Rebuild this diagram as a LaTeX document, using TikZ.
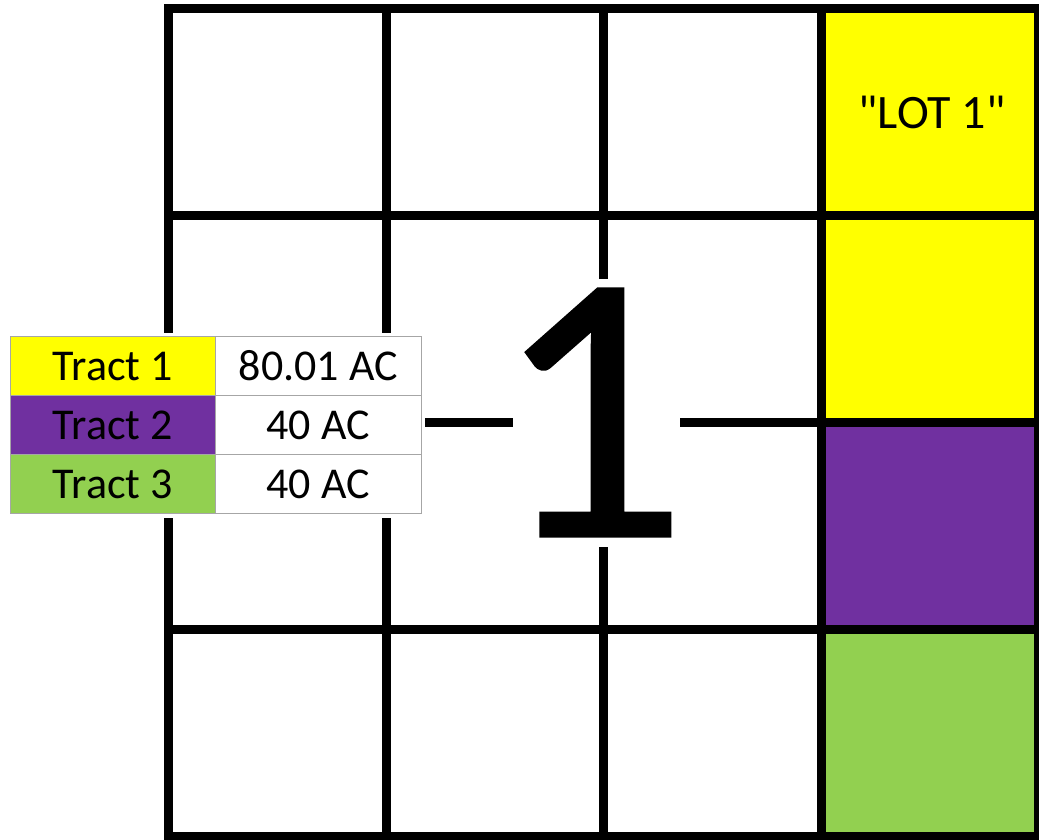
\documentclass[tikz,border=0pt]{standalone}
\usepackage{fontspec}
\setmainfont{Carlito}
\newfontfamily\numfont[FakeBold=0.5]{Carlito}
\usepackage{tikz}
\usetikzlibrary{positioning}
\definecolor{cYellow}{HTML}{FFFF00}
\definecolor{cPurple}{HTML}{7030A0}
\definecolor{cGreen}{HTML}{92D050}
\definecolor{cRule}{HTML}{A6A6A6}
\tikzset{
  gline/.style={line width=9pt,color=black},
  tcell/.style={draw=cRule,line width=1pt,minimum width=205.5pt,minimum height=59pt,inner sep=0pt,outer sep=0pt,font=\fontsize{44}{48}\selectfont,text=black},
}
\begin{document}
\begin{tikzpicture}[x=1pt,y=-1pt]
        \useasboundingbox (0,0) rectangle (1039,839);
        \clip (0,0) rectangle (1039,839);
        % lot column
        \fill[cYellow] (821,8.5) rectangle (1038.5,422);
        \fill[cPurple] (821,422) rectangle (1038.5,629);
        \fill[cGreen] (821,629) rectangle (1038.5,836);
        % section grid
        \foreach \x in {168.5,386,603.5,821,1038.5}
          \draw[gline] (\x,4) -- (\x,840.5);
        \foreach \y in {8.5,215,422,629,836}
          \draw[gline] (164,\y) -- (1043,\y);
        \fill[white] (513,279) rectangle (680,547);
        \node[inner sep=0pt,font=\numfont\fontsize{386}{386}\selectfont] (num) at (590,412.5) {1};
        \node[inner sep=0pt,font=\fontsize{48}{52}\selectfont] (lot) at (932,112) {\textquotedbl LOT 1\textquotedbl};
        % tract table
        \fill[white] (6,333) rectangle (425,518);
        \foreach \t/\a/\c/\i in {Tract 1/80.01 AC/cYellow/0, Tract 2/40 AC/cPurple/1, Tract 3/40 AC/cGreen/2}{
          \node[tcell,fill=\c] (tr\i) at (112.75,366+\i*59) {\t};
          \node[tcell,fill=white,right=0pt of tr\i] (ac\i) {\a};
        }
      \end{tikzpicture}
\end{document}
